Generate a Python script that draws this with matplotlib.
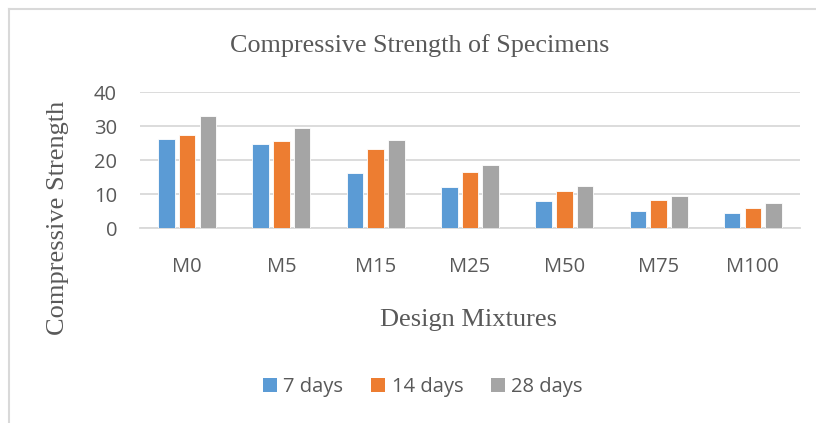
import numpy as np
import matplotlib.pyplot as plt
from matplotlib.lines import Line2D
from matplotlib.patches import Patch

mixtures = ['M0', 'M5', 'M15', 'M25', 'M50', 'M75', 'M100']
days_7 = [26.1, 24.7, 16.2, 12.2, 7.8, 5.1, 4.4]
days_14 = [27.4, 25.7, 23.1, 16.5, 10.8, 8.1, 5.9]
days_28 = [32.9, 29.5, 25.9, 18.6, 12.3, 9.4, 7.3]
series_labels = ['7 days', '14 days', '28 days']
colors = ['#5B9BD5', '#ED7D31', '#A5A5A5']
text_col = '#595959'
sans = 'Open Sans'
serif = 'Liberation Serif'

W, H = 816, 423
fig = plt.figure(figsize=(W / 100, H / 100), dpi=100)
ax = fig.add_axes([140 / W, 1 - 228 / H, 660 / W, 136 / H])

x = np.arange(len(mixtures))
width = 0.175
step = 0.22
for i, vals in enumerate([days_7, days_14, days_28]):
    ax.bar(x + (i - 1) * step, vals, width, color=colors[i],
           edgecolor='white', linewidth=0.6, zorder=3)

ax.set_xlim(-0.5, len(mixtures) - 0.5)
ax.set_ylim(0, 40)
ax.set_yticks([0, 10, 20, 30, 40])
ax.yaxis.grid(True, color='#d9d9d9', linewidth=1.3, zorder=0)
for s in ['top', 'right', 'left']:
    ax.spines[s].set_visible(False)
ax.spines['bottom'].set_color('#d9d9d9')
ax.spines['bottom'].set_linewidth(1.3)
ax.tick_params(length=0, colors=text_col, labelsize=14.5)
ax.tick_params(axis='y', pad=16.5)
ax.tick_params(axis='x', pad=21)
ax.set_xticks(x)
ax.set_xticklabels(mixtures)
for lab in ax.get_xticklabels() + ax.get_yticklabels():
    lab.set_fontfamily(sans)

fig.text(420 / W, 1 - 51.7 / H, 'Compressive Strength of Specimens', ha='center',
         va='baseline', family=serif, fontsize=18.8, color=text_col)
fig.text(58 / W, 1 - 218 / H, 'Compressive Strength', ha='center', va='center',
         rotation=90, family=serif, fontsize=19, color=text_col)
fig.text(469 / W, 1 - 325.7 / H, 'Design Mixtures', ha='center', va='baseline',
         family=serif, fontsize=19, color=text_col)

handles = [Patch(facecolor=c, edgecolor='none') for c in colors]
leg = fig.legend(handles, series_labels, loc='center', ncol=3,
                 bbox_to_anchor=(423 / W, 1 - 387 / H), frameon=False,
                 prop={'family': sans, 'size': 14.5}, handlelength=0.7,
                 handleheight=0.7, handletextpad=0.3, columnspacing=1.4)
for t in leg.get_texts():
    t.set_color(text_col)

# outer chart frame: top and left edges
fig.add_artist(Line2D([9 / W, 1], [1 - 9 / H, 1 - 9 / H], color='#d9d9d9', linewidth=1.5))
fig.add_artist(Line2D([9 / W, 9 / W], [0, 1 - 9 / H], color='#d9d9d9', linewidth=1.5))

fig.savefig('out.png', dpi=100)
